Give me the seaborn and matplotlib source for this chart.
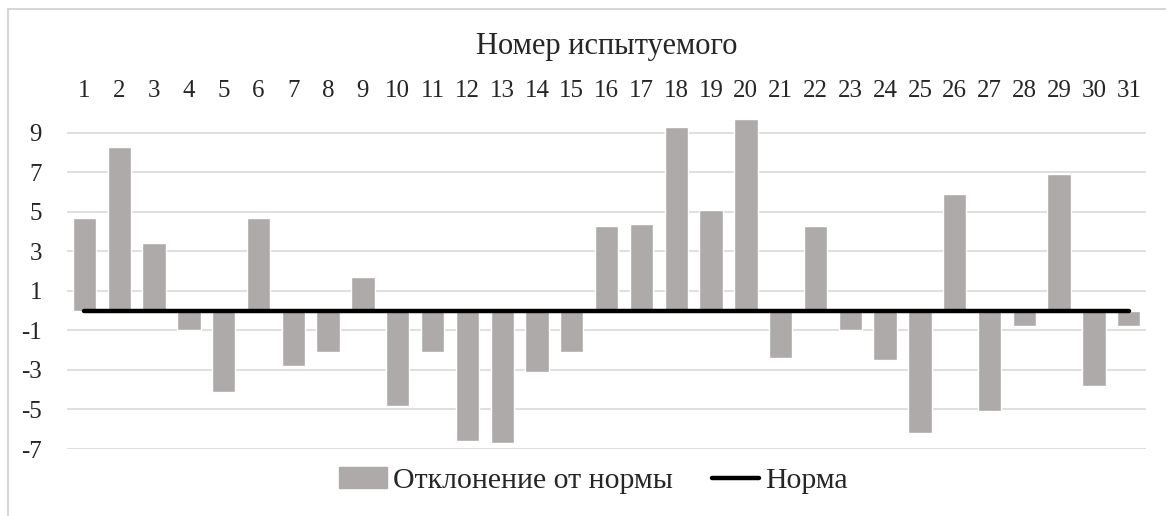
import matplotlib
matplotlib.use("Agg")
import matplotlib.pyplot as plt
import matplotlib.patches as mpatches
import matplotlib.lines as mlines
import numpy as np
import pandas as pd
import seaborn as sns

# ── Data ─────────────────────────────────────────────────────────────
subjects = [str(i) for i in range(1, 32)]
deviation = [4.7, 8.3, 3.4, -1.0, -4.1, 4.7, -2.8, -2.1, 1.7, -4.8,
             -2.1, -6.6, -6.7, -3.1, -2.1, 4.3, 4.4, 9.3, 5.1, 9.7,
             -2.4, 4.3, -1.0, -2.5, -6.2, 5.9, -5.1, -0.8, 6.9, -3.8, -0.8]
norm = [0] * 31
y_ticks = [9, 7, 5, 3, 1, -1, -3, -5, -7]

BAR_COLOR = "#AEAAAA"
GRID_COLOR = "#D9D9D9"

# ── Theme ────────────────────────────────────────────────────────────
sns.set_theme(style="white")
plt.rcParams["font.family"] = ["Liberation Serif", "DejaVu Serif"]

df = pd.DataFrame({"Subject": subjects, "Deviation": deviation, "Norm": norm})

fig = plt.figure(figsize=(11.66, 5.16), dpi=100)
ax = fig.add_axes([0.0575, 0.1298, 0.9255, 0.6512])

sns.barplot(data=df, x="Subject", y="Deviation", color=BAR_COLOR,
            width=0.67, saturation=1, ax=ax, zorder=2)
sns.lineplot(x=np.arange(len(norm)), y=df["Norm"], color="black",
             linewidth=3.2, ax=ax, zorder=3, solid_capstyle="round")

ax.set_xlim(-0.5, len(subjects) - 0.5)
ax.set_ylim(-7, 10)
ax.set_yticks(y_ticks)
ax.set_yticklabels([str(t) for t in y_ticks], fontsize=18)
ax.yaxis.grid(True, color=GRID_COLOR, linewidth=1.2, zorder=0)
ax.set_axisbelow(True)

ax.xaxis.tick_top()
ax.xaxis.set_label_position("top")
ax.tick_params(axis="x", labelsize=18, length=0, pad=8)
ax.tick_params(axis="y", length=0, pad=18)
ax.set_xlabel("Номер испытуемого", fontsize=22, labelpad=19)
ax.set_ylabel("")

for s in ax.spines.values():
    s.set_visible(False)

# Legend
bar_handle = mpatches.Patch(color=BAR_COLOR, label="Отклонение от нормы")
line_handle = mlines.Line2D([], [], color="black", linewidth=3.2,
                            solid_capstyle="round", label="Норма")
fig.legend(handles=[bar_handle, line_handle], loc="center",
           bbox_to_anchor=(0.509, 0.068), ncol=2, frameon=False,
           fontsize=21.5, handlelength=1.6, handletextpad=0.2,
           columnspacing=1.3)

# Outer frame (top and left edges visible)
fig.add_artist(mlines.Line2D([8 / 1166, 1], [1 - 9 / 516, 1 - 9 / 516],
                             transform=fig.transFigure, color="#D0D0D0", linewidth=1.2))
fig.add_artist(mlines.Line2D([8 / 1166, 8 / 1166], [0, 1 - 9 / 516],
                             transform=fig.transFigure, color="#D0D0D0", linewidth=1.2))

fig.savefig("out.png", dpi=100)
plt.close(fig)
